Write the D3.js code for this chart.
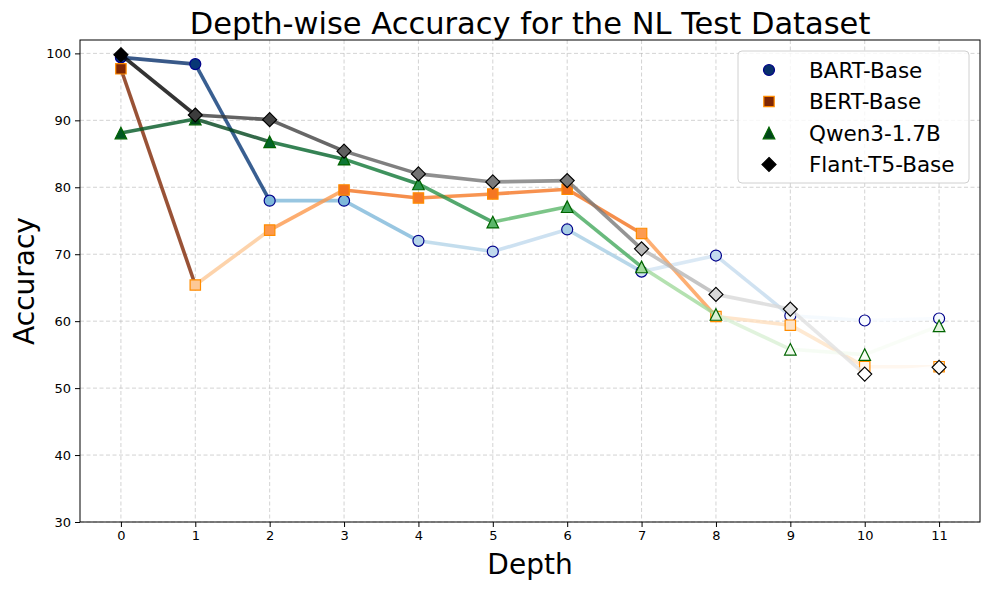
<!DOCTYPE html>
<html>
<head>
<meta charset="utf-8">
<script src="https://cdn.jsdelivr.net/npm/d3@7"></script>
<style>
  body { margin: 0; background: #fff; }
  text { font-family: "DejaVu Sans", sans-serif; }
</style>
</head>
<body>
<div id="chart"></div>
<script>
// values
let depths = [0, 1, 2, 3, 4, 5, 6, 7, 8, 9, 10, 11];
let bartBase = [99.4, 98.4, 78.0, 78.0, 72.0, 70.4, 73.7, 67.4, 69.8, 60.8, 60.1, 60.4];
let bertBase = [97.7, 65.4, 73.6, 79.6, 78.4, 79.0, 79.7, 73.1, 60.7, 59.4, 53.2, 53.2];
let qwenSmall = [88.1, 90.2, 86.8, 84.2, 80.5, 74.8, 77.1, 68.1, 61.0, 55.8, 55.0, 59.3];
let flantBase = [99.8, 90.8, 90.1, 85.4, 82.0, 80.8, 81.0, 70.8, 64.0, 61.8, 52.1, 53.1];
let yTicks = [30, 40, 50, 60, 70, 80, 90, 100];

let width = 989;
let height = 589;
let plotLeft = 80, plotRight = 980, plotTop = 40, plotBottom = 522;

let series = [
    { name: "BART-Base", values: bartBase, cmap: d3.interpolateBlues, edge: "#00008b", shape: "circle" },
    { name: "BERT-Base", values: bertBase, cmap: d3.interpolateOranges, edge: "#ff8c00", shape: "square" },
    { name: "Qwen3-1.7B", values: qwenSmall, cmap: d3.interpolateGreens, edge: "#006400", shape: "triangle" },
    { name: "Flant-T5-Base", values: flantBase, cmap: d3.interpolateGreys, edge: "#000000", shape: "diamond" }
];

let svg = d3.select("#chart")
    .append("svg")
    .attr("width", width)
    .attr("height", height);

let x = d3.scaleLinear().domain([-0.55, 11.55]).range([plotLeft, plotRight]);
let y = d3.scaleLinear().domain([30, 102]).range([plotBottom, plotTop]);

// marker shapes, matplotlib-like
function markerPath(shape) {
    if (shape == "circle") {
        let r = 5.5;
        return "M" + r + ",0A" + r + "," + r + " 0 1,1 " + (-r) + ",0A" + r + "," + r + " 0 1,1 " + r + ",0Z";
    }
    if (shape == "square") {
        let h = 5.2;
        return "M" + (-h) + "," + (-h) + "H" + h + "V" + h + "H" + (-h) + "Z";
    }
    if (shape == "triangle") {
        let h = 5.8;
        return "M0," + (-h) + "L" + h + "," + h + "L" + (-h) + "," + h + "Z";
    }
    let d = 7;
    return "M0," + (-d) + "L" + d + ",0L0," + d + "L" + (-d) + ",0Z";
}

// grid
svg.append("g")
    .selectAll("line")
    .data(depths)
    .enter().append("line")
    .attr("x1", (d) => x(d)).attr("x2", (d) => x(d))
    .attr("y1", plotTop).attr("y2", plotBottom)
    .attr("stroke", "#b0b0b0").attr("stroke-opacity", 0.7)
    .attr("stroke-dasharray", "4,2.5").attr("stroke-width", 0.8);

svg.append("g")
    .selectAll("line")
    .data(yTicks)
    .enter().append("line")
    .attr("x1", plotLeft).attr("x2", plotRight)
    .attr("y1", (d) => y(d)).attr("y2", (d) => y(d))
    .attr("stroke", "#b0b0b0").attr("stroke-opacity", 0.7)
    .attr("stroke-dasharray", "4,2.5").attr("stroke-width", 0.8);

// axes
let xAxis = svg.append("g")
    .attr("transform", "translate(0," + plotBottom + ")")
    .call(d3.axisBottom(x).tickValues(depths).tickFormat(d3.format("d")).tickSize(5).tickPadding(4));
let yAxis = svg.append("g")
    .attr("transform", "translate(" + plotLeft + ",0)")
    .call(d3.axisLeft(y).tickValues(yTicks).tickSize(5).tickPadding(4));

[xAxis, yAxis].forEach(function (g) {
    g.select(".domain").remove();
    g.selectAll("text").style("font-size", "13px").attr("fill", "#000");
    g.selectAll("line").attr("stroke", "#000");
});

// series: coloured segments then markers
series.forEach(function (s) {
    let color = d3.scaleSequential(s.cmap).domain([d3.min(s.values), d3.max(s.values)]);
    let g = svg.append("g");
    g.selectAll("line")
        .data(s.values.slice(0, -1))
        .enter().append("line")
        .attr("x1", (d, i) => x(depths[i]))
        .attr("y1", (d) => y(d))
        .attr("x2", (d, i) => x(depths[i + 1]))
        .attr("y2", (d, i) => y(s.values[i + 1]))
        .attr("stroke", (d) => color(d))
        .attr("stroke-opacity", 0.8)
        .attr("stroke-width", 3.6);
    g.selectAll("path")
        .data(s.values)
        .enter().append("path")
        .attr("d", markerPath(s.shape))
        .attr("transform", (d, i) => "translate(" + x(depths[i]) + "," + y(d) + ")")
        .attr("fill", (d) => color(d))
        .attr("stroke", s.edge)
        .attr("stroke-width", 1.2);
});

// frame
svg.append("rect")
    .attr("x", plotLeft).attr("y", plotTop)
    .attr("width", plotRight - plotLeft).attr("height", plotBottom - plotTop)
    .attr("fill", "none").attr("stroke", "#000").attr("stroke-width", 1);

// legend
let legend = svg.append("g");
legend.append("rect")
    .attr("x", 738).attr("y", 51)
    .attr("width", 231).attr("height", 132)
    .attr("rx", 4)
    .attr("fill", "#fff").attr("fill-opacity", 0.8)
    .attr("stroke", "#d0d0d0");

series.forEach(function (s, i) {
    let ly = 70 + i * 31.5;
    legend.append("path")
        .attr("d", markerPath(s.shape))
        .attr("transform", "translate(769," + ly + ")")
        .attr("fill", s.cmap(1))
        .attr("stroke", s.edge)
        .attr("stroke-width", 1.2);
    legend.append("text")
        .attr("x", 809).attr("y", ly)
        .attr("dy", "0.36em")
        .style("font-size", "21.5px")
        .text(s.name);
});

// title and labels
svg.append("text")
    .attr("x", (plotLeft + plotRight) / 2).attr("y", 34)
    .attr("text-anchor", "middle")
    .style("font-size", "30.5px")
    .text("Depth-wise Accuracy for the NL Test Dataset");

svg.append("text")
    .attr("x", (plotLeft + plotRight) / 2).attr("y", 574)
    .attr("text-anchor", "middle")
    .style("font-size", "28px")
    .text("Depth");

svg.append("text")
    .attr("transform", "translate(34," + ((plotTop + plotBottom) / 2) + ") rotate(-90)")
    .attr("text-anchor", "middle")
    .style("font-size", "28px")
    .text("Accuracy");
</script>
</body>
</html>
